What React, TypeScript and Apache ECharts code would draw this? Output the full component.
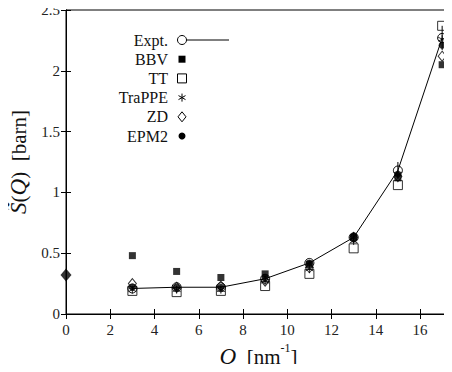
import React, { useEffect, useRef } from "react";
import * as echarts from "echarts";

const Q = [3, 5, 7, 9, 11, 13, 15, 17];
const expt = [0.21, 0.22, 0.22, 0.29, 0.42, 0.63, 1.18, 2.27];
const exptErr = [0.01, 0.01, 0.01, 0.02, 0.02, 0.04, 0.07, 0.1];
const bbv = [0.48, 0.35, 0.3, 0.33, 0.41, 0.63, 1.12, 2.05];
const tt = [0.19, 0.18, 0.19, 0.23, 0.33, 0.54, 1.06, 2.37];
const trappe = [0.2, 0.2, 0.2, 0.27, 0.37, 0.6, 1.15, 2.26];
const zd = [0.25, 0.22, 0.23, 0.27, 0.38, 0.63, 1.13, 2.12];
const epm2 = [0.22, 0.22, 0.22, 0.3, 0.42, 0.64, 1.15, 2.21];
const q0Point = [[0, 0.32]];
const legendNames = ["Expt.", "BBV", "TT", "TraPPE", "ZD", "EPM2"];
const xTicks = [0, 2, 4, 6, 8, 10, 12, 14, 16];

const FONT = "Liberation Serif";
const ASTERISK = "path://M0,-1L0,1M-0.87,-0.5L0.87,0.5M-0.87,0.5L0.87,-0.5";

const pairs = (ys: number[]) => Q.map((q, i) => [q, ys[i]]);

export default function App() {
  const ref = useRef<HTMLDivElement>(null);
  useEffect(() => {
    const chart = echarts.init(ref.current!, null, { renderer: "svg" });
    const open = { color: "transparent", borderColor: "#000", borderWidth: 1 };
    const filled = { color: "#000" };

    const lx = 168;
    const sx = 182;
    const ly0 = 40;
    const dy = 19.2;
    const legendGraphic: any[] = [];
    legendNames.forEach((n, i) => {
      legendGraphic.push({
        type: "text",
        x: lx,
        y: ly0 + i * dy,
        style: { text: n, fontFamily: FONT, fontSize: 16, fill: "#111", align: "right", verticalAlign: "middle" },
      });
    });
    const y = (i: number) => ly0 + i * dy;
    legendGraphic.push(
      { type: "circle", shape: { cx: sx, cy: y(0), r: 4.5 }, style: { fill: "none", stroke: "#000", lineWidth: 1 } },
      { type: "line", shape: { x1: sx + 5, y1: y(0), x2: 229, y2: y(0) }, style: { stroke: "#000", lineWidth: 1 } },
      { type: "rect", shape: { x: sx - 3.5, y: y(1) - 3.5, width: 7, height: 7 }, style: { fill: "#000" } },
      { type: "rect", shape: { x: sx - 4.5, y: y(2) - 4.5, width: 9, height: 9 }, style: { fill: "none", stroke: "#000", lineWidth: 1 } },
      { type: "line", shape: { x1: sx, y1: y(3) - 4, x2: sx, y2: y(3) + 4 }, style: { stroke: "#000", lineWidth: 1 } },
      { type: "line", shape: { x1: sx - 3.5, y1: y(3) - 2, x2: sx + 3.5, y2: y(3) + 2 }, style: { stroke: "#000", lineWidth: 1 } },
      { type: "line", shape: { x1: sx - 3.5, y1: y(3) + 2, x2: sx + 3.5, y2: y(3) - 2 }, style: { stroke: "#000", lineWidth: 1 } },
      {
        type: "polygon",
        shape: { points: [[sx, y(4) - 5], [sx + 4, y(4)], [sx, y(4) + 5], [sx - 4, y(4)]] },
        style: { fill: "none", stroke: "#000", lineWidth: 1 },
      },
      { type: "circle", shape: { cx: sx, cy: y(5), r: 3.5 }, style: { fill: "#000" } }
    );

    const axisText = { fontFamily: FONT, fontSize: 15, color: "#222" };
    chart.setOption({
      animation: false,
      textStyle: { fontFamily: FONT },
      grid: {
        left: 66, right: 1, top: 10, bottom: 58,
        show: true, borderColor: "#000", borderWidth: 1, backgroundColor: "transparent",
        containLabel: false, outerBoundsMode: "none",
      },
      xAxis: [
        {
          type: "value",
          min: 0,
          max: 17.4,
          interval: 2,
          axisLine: { lineStyle: { color: "#000", width: 1 } },
          axisTick: { inside: true, length: 5, lineStyle: { color: "#000" } },
          splitLine: { show: false },
          axisLabel: {
            ...axisText,
            margin: 8,
            formatter: (v: number) => (xTicks.includes(v) ? String(v) : ""),
          },
          name: "{i|Q}{t|  [nm}{s|-1}{t|]}",
          nameLocation: "middle",
          nameGap: 25,
          nameTextStyle: {
            fontFamily: FONT,
            rich: {
              i: { fontFamily: FONT, fontSize: 23, fontStyle: "italic", color: "#111", verticalAlign: "bottom", lineHeight: 26 },
              t: { fontFamily: FONT, fontSize: 21, color: "#111", verticalAlign: "bottom", lineHeight: 26 },
              s: { fontFamily: FONT, fontSize: 12, color: "#111", verticalAlign: "top", lineHeight: 26 },
            },
          },
        },
        {
          type: "value",
          position: "top",
          min: 0,
          max: 17.4,
          interval: 2,
          axisLine: { show: true, lineStyle: { color: "#000" } },
          axisTick: { inside: true, length: 5, lineStyle: { color: "#000" } },
          axisLabel: { show: false },
          splitLine: { show: false },
        },
      ],
      yAxis: [
        {
          type: "value",
          min: 0,
          max: 2.5,
          interval: 0.5,
          axisLine: { show: true, lineStyle: { color: "#000", width: 1 } },
          axisTick: { inside: true, length: 5, lineStyle: { color: "#000" } },
          splitLine: { show: false },
          axisLabel: { ...axisText, margin: 6 },
          name: "{i|S\u0303}{t|(}{i|Q}{t|)  [barn]}",
          nameLocation: "middle",
          nameGap: 30,
          nameRotate: 90,
          nameTextStyle: {
            fontFamily: FONT,
            rich: {
              i: { fontFamily: FONT, fontSize: 23, fontStyle: "italic", color: "#111" },
              t: { fontFamily: FONT, fontSize: 21, color: "#111" },
            },
          },
        },
        {
          type: "value",
          position: "right",
          min: 0,
          max: 2.5,
          interval: 0.5,
          axisLine: { show: true, lineStyle: { color: "#000" } },
          axisTick: { inside: true, length: 5, lineStyle: { color: "#000" } },
          axisLabel: { show: false },
          splitLine: { show: false },
        },
      ],
      graphic: legendGraphic,
      series: [
        {
          name: "Expt.",
          type: "line",
          data: pairs(expt),
          symbol: "circle",
          symbolSize: 9,
          itemStyle: open,
          lineStyle: { color: "#000", width: 1 },
          z: 5,
        },
        {
          name: "ExptErr",
          type: "custom",
          data: Q.map((q, i) => [q, expt[i] - exptErr[i], expt[i] + exptErr[i]]),
          renderItem: (params: any, api: any) => {
            const lo = api.coord([api.value(0), api.value(1)]);
            const hi = api.coord([api.value(0), api.value(2)]);
            return {
              type: "line",
              shape: { x1: lo[0], y1: lo[1], x2: hi[0], y2: hi[1] },
              style: { stroke: "#000", lineWidth: 1 },
            };
          },
          z: 4,
        },
        { name: "Q0", type: "scatter", data: q0Point, symbol: "diamond", symbolSize: [11, 13], itemStyle: filled, z: 6 },
        { name: "BBV", type: "scatter", data: pairs(bbv), symbol: "rect", symbolSize: 7, itemStyle: filled },
        { name: "TT", type: "scatter", data: pairs(tt), symbol: "rect", symbolSize: 9, itemStyle: open },
        { name: "TraPPE", type: "scatter", data: pairs(trappe), symbol: ASTERISK, symbolSize: 8, itemStyle: open },
        { name: "ZD", type: "scatter", data: pairs(zd), symbol: "diamond", symbolSize: [8, 10], itemStyle: open },
        { name: "EPM2", type: "scatter", data: pairs(epm2), symbol: "circle", symbolSize: 7, itemStyle: filled },
      ],
    });
    return () => chart.dispose();
  }, []);
  return <div ref={ref} style={{ width: 452, height: 372, margin: -8, background: "#fff" }} />;
}
